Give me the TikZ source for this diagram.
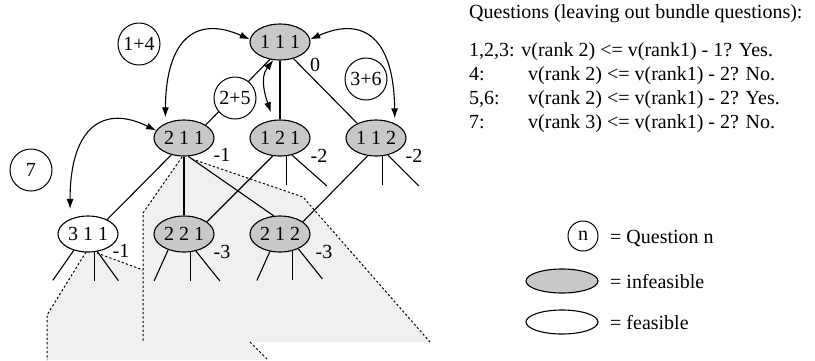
\documentclass[tikz,border=0pt]{standalone}
\usepackage{fontspec}
\setmainfont{Liberation Serif}
\usetikzlibrary{shapes.geometric,arrows.meta}
\definecolor{infgray}{RGB}{200,200,200}
\definecolor{subtreegray}{RGB}{240,240,240}
\begin{document}
\begin{tikzpicture}[x=1pt,y=-1pt,
  every node/.style={font=\fontsize{20}{24}\selectfont},
  state/.style={ellipse,draw,line width=1.1pt,minimum width=60pt,minimum height=36pt,inner sep=0pt},
  infeas/.style={state,fill=infgray},
  feas/.style={state,fill=white},
  quest/.style={circle,draw,line width=1pt,fill=white,minimum size=42pt,inner sep=0pt},
  edge/.style={line width=1.1pt},
  border/.style={line width=1pt,dash pattern=on 2.2pt off 2.2pt},
  link/.style={line width=1.1pt,{Latex[length=10pt,width=7pt]}-{Latex[length=10pt,width=7pt]}},
  val/.style={inner sep=0pt},
  txt/.style={anchor=base west,inner sep=0pt}
]
\useasboundingbox (0,0) rectangle (815,360);

% shaded subtrees with dotted outlines
\fill[subtreegray] (86,252) -- (47,315) -- (47,360) -- (268,360) -- (250,342) -- (143,342) -- (143,270) -- (97,253) -- cycle;
\fill[subtreegray] (182,157) -- (143,213) -- (143,342) -- (430,342) -- (303,197) -- (192,159) -- cycle;
\draw[border] (182,157) -- (143,213) -- (143,342);
\draw[border] (192,159) -- (303,197) -- (430,342);
\draw[border] (86,252) -- (47,315) -- (47,360);
\draw[border] (97,253) -- (143,270);
\draw[border] (250,342) -- (268,360);

% tree nodes
\node[infeas] (n111) at (280,42) {1 1 1};
\node[infeas] (n211) at (184,138) {2 1 1};
\node[infeas] (n121) at (280,138) {1 2 1};
\node[infeas] (n112) at (376,138) {1 1 2};
\node[feas]   (n311) at (88,234) {3 1 1};
\node[infeas] (n221) at (184,234) {2 2 1};
\node[infeas] (n212) at (280,234) {2 1 2};

% tree edges
\draw[edge] (n111.240) -- (n211.31);
\draw[edge] (n111.south) -- (n121.north);
\draw[edge] (n111.309) -- (n112.142);
\draw[edge] (n211.233) -- (n311.37);
\draw[edge] (n211.south) -- (n221.north);
\draw[edge] (n211.283) -- (n212.109);
\draw[edge] (n121.248) -- (n221.28);
\draw[edge] (n112.245) -- (n212.28);

% open branches
\draw[edge] (n121.289) -- +(0,29);
\draw[edge] (n121.305) -- +(35,31);
\draw[edge] (n112.289) -- +(0,29);
\draw[edge] (n112.305) -- +(31,31);
\draw[edge] (n311.229) -- +(-21,30);
\draw[edge] (n311.289) -- +(0,29);
\draw[edge] (n311.298) -- +(21,29);
\draw[edge] (n221.225) -- +(-14,31);
\draw[edge] (n221.289) -- +(0,29);
\draw[edge] (n221.305) -- +(24,30);
\draw[edge] (n212.240) -- +(-13,29);
\draw[edge] (n212.306) -- +(0,29);
\draw[edge] (n212.321) -- +(24,30);

% node values
\node[val] (v111) at (315,65) {0};
\node[val] (v211) at (222,155) {-1};
\node[val] (v121) at (319,156) {-2};
\node[val] (v112) at (414,156) {-2};
\node[val] (v311) at (121,251) {-1};
\node[val] (v221) at (222,252) {-3};
\node[val] (v212) at (324,252) {-3};

% question arrows
\draw[link,shorten >=6pt] (n111.175) .. controls (195,15) and (166,40) .. (n211.142);
\draw[link,shorten >=5pt] (n111.5) .. controls (365,15) and (394,40) .. (n112.38);
\draw[link,shorten >=8pt] (n111.250) .. controls (259,78) and (266,98) .. (n121.110);
\draw[link,shorten >=10pt] (n211.165) .. controls (105,105) and (70,125) .. (n311.140);

% question labels
\node[quest] (q14) at (139,44) {1+4};
\node[quest] (q25) at (235,98) {2+5};
\node[quest] (q36) at (366,79) {3+6};
\node[quest] (q7)  at (31,170) {7};

% question list
\node[txt] (head) at (469,18) {Questions (leaving out bundle questions):};
\node[txt] (r1) at (469,56) {1,2,3: v(rank 2) <= v(rank1) - 1? Yes.};
\node[txt] (r2a) at (469,80) {4:};
\node[txt] (r2b) at (528,80) {v(rank 2) <= v(rank1) - 2? No.};
\node[txt] (r3a) at (469,104) {5,6:};
\node[txt] (r3b) at (528,104) {v(rank 2) <= v(rank1) - 2? Yes.};
\node[txt] (r4a) at (469,128) {7:};
\node[txt] (r4b) at (528,128) {v(rank 3) <= v(rank1) - 2? No.};

% key
\node[quest,minimum size=30pt] (keyq) at (583,236) {n};
\node[txt] (keyqt) at (610,243) {= Question n};
\node[infeas,minimum width=72pt,minimum height=24pt] (keyinf) at (562,281) {};
\node[txt] (keyinft) at (610,288) {= infeasible};
\node[feas,minimum width=72pt,minimum height=24pt] (keyfeas) at (562,322) {};
\node[txt] (keyfeast) at (610,329) {= feasible};
\end{tikzpicture}
\end{document}
